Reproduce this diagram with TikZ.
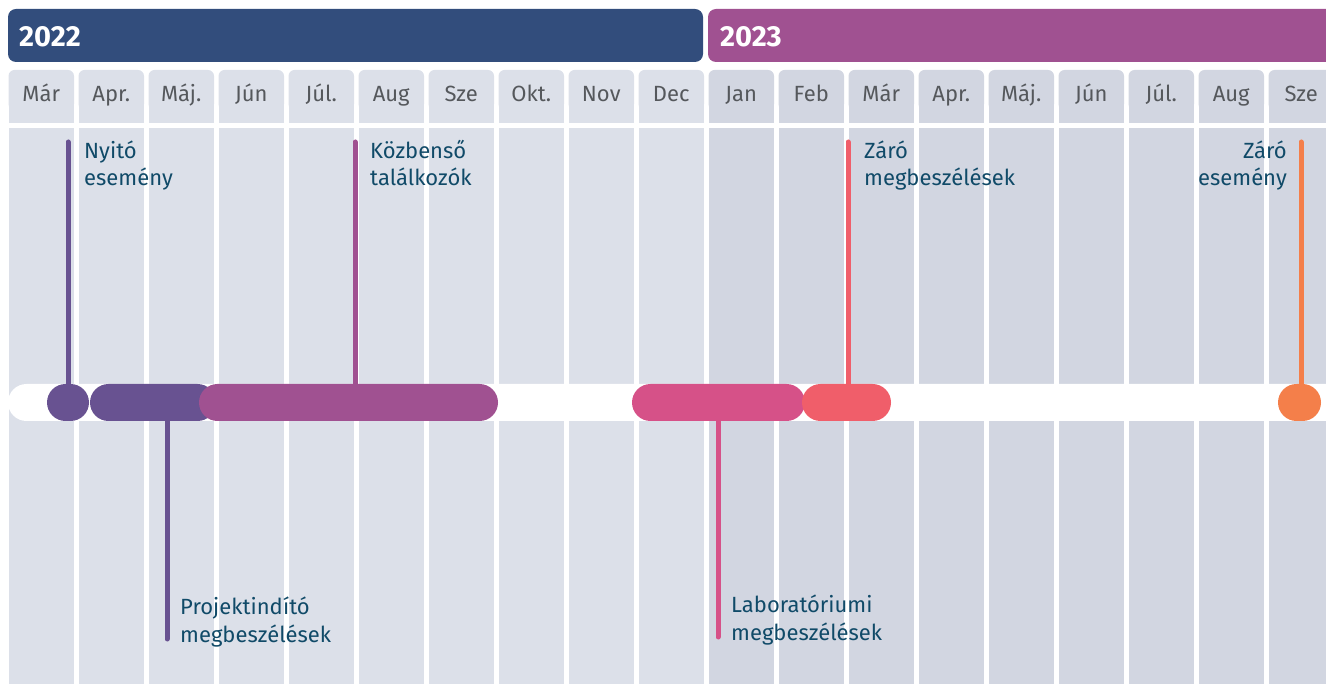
\documentclass[tikz,border=0pt]{standalone}
\usepackage{fontspec}
\setmainfont{Fira Sans}
\definecolor{yearA}{RGB}{50,77,124}
\definecolor{yearB}{RGB}{160,81,145}
\definecolor{colA}{RGB}{220,224,233}
\definecolor{colB}{RGB}{210,214,225}
\definecolor{monthtxt}{RGB}{85,88,92}
\definecolor{labtxt}{RGB}{16,74,104}
\definecolor{cPurple}{RGB}{104,82,145}
\definecolor{cMagenta}{RGB}{160,81,145}
\definecolor{cPink}{RGB}{214,81,136}
\definecolor{cCoral}{RGB}{240,94,106}
\definecolor{cOrange}{RGB}{244,127,74}
\tikzset{
  yearlabel/.style={anchor=base west,text=white,font=\fontsize{29}{32}\selectfont\bfseries,inner sep=0},
  monthlabel/.style={anchor=base,text=monthtxt,font=\fontsize{22}{26}\selectfont,inner sep=0},
  evlabel/.style={text=labtxt,font=\fontsize{22}{27.5}\selectfont,inner sep=0},
  pill/.style={inner sep=0,minimum height=37pt,rounded corners=18.5pt,draw=none},
  stem/.style={line width=5pt,line cap=round},
}
\begin{document}
\begin{tikzpicture}[x=1pt,y=-1pt]
\useasboundingbox (0,0) rectangle (1326,684);
\begin{scope}
\clip (0,0) rectangle (1326,684);
% year bars
\fill[yearA,rounded corners=8pt] (8,9) rectangle (703,62);
\fill[yearB,rounded corners=8pt] (708,9) rectangle (1346,62);
\node[yearlabel] (y2022) at (19,47) {2022};
\node[yearlabel] (y2023) at (720,47) {2023};
% columns
\foreach \i/\m in {0/Már,1/Apr.,2/Máj.,3/Jún,4/Júl.,5/Aug,6/Sze,7/Okt.,8/Nov,9/Dec,10/Jan,11/Feb,12/Már,13/Apr.,14/Máj.,15/Jún,16/Júl.,17/Aug,18/Sze}{
  \pgfmathsetmacro{\xa}{8.5+70*\i}
  \pgfmathsetmacro{\xb}{\xa+65.5}
  \pgfmathsetmacro{\xc}{\xa+32.75}
  \ifnum\i<10 \def\cc{colA}\else\def\cc{colB}\fi
  \fill[\cc,rounded corners=6pt] (\xa,70) rectangle (\xb,110);
  \fill[\cc] (\xa,90) rectangle (\xb,123);
  \fill[\cc] (\xa,128) rectangle (\xb,690);
  \node[monthlabel] (m\i) at (\xc,102) {\m};
}
% white band
\fill[white,rounded corners=18.5pt] (8,384) rectangle (1360,421);
% pills
\node[pill,fill=cPurple,minimum width=42pt] (p1) at (68,402.5) {};
\node[pill,fill=cPurple,minimum width=126pt] (p2) at (153,402.5) {};
\node[pill,fill=cMagenta,minimum width=299pt] (p3) at (348.5,402.5) {};
\node[pill,fill=cPink,minimum width=173pt] (p4) at (718.5,402.5) {};
\node[pill,fill=cCoral,minimum width=89pt] (p5) at (846.5,402.5) {};
\node[pill,fill=cOrange,minimum width=43pt] (p6) at (1299.5,402.5) {};
% stems
\coordinate (t1) at (68,142);
\coordinate (t2) at (167,639);
\coordinate (t3) at (355,142);
\coordinate (t4) at (718,637);
\coordinate (t5) at (848,142);
\coordinate (t6) at (1301,142);
\draw[stem,cPurple] (t1) -- (t1 |- p1.center);
\draw[stem,cPurple] (t2) -- (t2 |- p2.south);
\draw[stem,cMagenta] (t3) -- (t3 |- p3.north);
\draw[stem,cPink] (t4) -- (t4 |- p4.south);
\draw[stem,cCoral] (t5) -- (t5 |- p5.north);
\draw[stem,cOrange] (t6) -- (t6 |- p6.center);
% labels
\node[evlabel,anchor=base west,align=left] (l1) at (84,186) {Nyitó\\esemény};
\node[evlabel,anchor=base west,align=left] (l3) at (370,186) {Közbenső\\találkozók};
\node[evlabel,anchor=base west,align=left] (l5) at (864,186) {Záró\\megbeszélések};
\node[evlabel,anchor=base east,align=right] (l6) at (1287,186) {Záró\\esemény};
\node[evlabel,anchor=base west,align=left] (l2) at (180,642) {Projektindító\\megbeszélések};
\node[evlabel,anchor=base west,align=left] (l4) at (731,640) {Laboratóriumi\\megbeszélések};
\end{scope}
\end{tikzpicture}
\end{document}
